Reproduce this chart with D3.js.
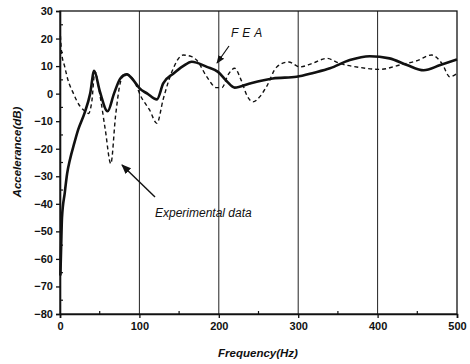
<!DOCTYPE html>
<html>
<head>
<meta charset="utf-8">
<script src="https://cdn.jsdelivr.net/npm/d3@7"></script>
<style>
  body { margin: 0; background: #fff; }
  text { font-family: "Liberation Sans", Arial, sans-serif; fill: #111; }
</style>
</head>
<body>
<svg id="chart" width="470" height="364"></svg>
<script>
// FEA (solid) curve
const feaFreq = [0.5, 1.5, 2.5, 6, 9, 12.5, 18, 23, 31, 38, 43, 50, 60, 68, 76, 84, 94, 100, 110, 122, 130, 143, 155, 166, 185, 199, 210, 220, 239, 268, 298, 320, 340, 365, 390, 415, 437, 458, 479, 500];
const feaDb = [-66, -55, -45, -36, -29, -24, -18, -13, -7, 0, 8.3, 1, -6.4, 0, 5.5, 7, 4.3, 2, 0, -2.1, 3.7, 7.3, 10, 11.6, 9.7, 7.9, 4.5, 2.2, 3.7, 5.5, 6.1, 7.6, 9.2, 12.2, 13.6, 12.8, 10.4, 8.5, 10.4, 12.4];

// experimental (dashed) curve
const expFreq = [0.5, 1, 2, 6, 10, 17, 25, 30, 36, 40, 44, 50, 57, 64, 70, 76, 82, 90, 96, 101, 113, 122, 130, 141, 155, 165, 172, 185, 197, 204, 212, 220, 228, 236, 243, 252, 260, 273, 288, 302, 318, 336, 352, 378, 403, 428, 450, 468, 481, 491, 500];
const expDb = [21, 19, 15, 9.7, 5, 0, -4.5, -6, -7.2, -3, 8, 0, -13, -25.4, -8, 4, 7.3, 6, 3, -0.5, -6, -10.8, -2, 8, 14, 13.5, 12.2, 6.1, 2.2, 2.2, 7, 9.2, 5, -1, -3, -1, 2.5, 9.7, 11.5, 9.7, 11, 12.8, 11, 9.5, 8.8, 10.4, 12, 14, 11, 6.1, 7.3];

const xTicks = [0, 100, 200, 300, 400, 500];
const yTicks = [30, 20, 10, 0, -10, -20, -30, -40, -50, -60, -70, -80];

const svg = d3.select('#chart');
const m = { left: 60, right: 457, top: 11, bottom: 314 };

const x = d3.scaleLinear().domain([0, 500]).range([m.left, m.right]);
const y = d3.scaleLinear().domain([-80, 30]).range([m.bottom, m.top]);

// arrowhead
svg.append('defs').append('marker')
  .attr('id', 'arr')
  .attr('viewBox', '0 0 10 10')
  .attr('refX', 9).attr('refY', 5)
  .attr('markerWidth', 7).attr('markerHeight', 7)
  .attr('orient', 'auto')
  .append('path').attr('d', 'M0,1L10,5L0,9Z').attr('fill', '#111');

// vertical grid lines
svg.append('g').selectAll('line').data([100, 200, 300, 400]).enter()
  .append('line')
  .attr('x1', (d) => x(d)).attr('x2', (d) => x(d))
  .attr('y1', m.top).attr('y2', m.bottom)
  .attr('stroke', '#222').attr('stroke-width', 1);

// frame
svg.append('rect')
  .attr('x', m.left).attr('y', m.top)
  .attr('width', m.right - m.left).attr('height', m.bottom - m.top)
  .attr('fill', 'none').attr('stroke', '#111').attr('stroke-width', 1.3);

// axes
const xAxis = svg.append('g').attr('transform', `translate(0,${m.bottom})`)
  .call(d3.axisBottom(x).tickValues(xTicks).tickSize(4).tickPadding(4).tickFormat(d3.format('d')));
const yAxis = svg.append('g').attr('transform', `translate(${m.left},0)`)
  .call(d3.axisLeft(y).tickValues(yTicks).tickSize(4).tickPadding(3).tickFormat(d3.format('d')));
[xAxis, yAxis].forEach((a) => {
  a.select('.domain').attr('stroke', '#111').attr('stroke-width', 1.6);
  a.selectAll('.tick line').attr('stroke', '#111').attr('stroke-width', 1.3);
  a.selectAll('text').attr('font-size', 11).attr('font-weight', 'bold')
    .attr('font-family', '"Liberation Sans", Arial, sans-serif').attr('fill', '#111');
});

// minor ticks, pointing inward
svg.append('g').selectAll('line').data(d3.range(-75, 30, 10)).enter()
  .append('line')
  .attr('x1', m.left).attr('x2', m.left + 3)
  .attr('y1', (d) => y(d)).attr('y2', (d) => y(d))
  .attr('stroke', '#111').attr('stroke-width', 1.2);
svg.append('g').selectAll('line').data([50, 150, 250, 350, 450]).enter()
  .append('line')
  .attr('x1', (d) => x(d)).attr('x2', (d) => x(d))
  .attr('y1', m.bottom).attr('y2', m.bottom - 3)
  .attr('stroke', '#111').attr('stroke-width', 1.2);

// curves
const line = d3.line().curve(d3.curveMonotoneX);
svg.append('path')
  .attr('d', line(expFreq.map((f, i) => [x(f), y(expDb[i])])))
  .attr('fill', 'none').attr('stroke', '#111')
  .attr('stroke-width', 1.4).attr('stroke-dasharray', '4,3');
svg.append('path')
  .attr('d', line(feaFreq.map((f, i) => [x(f), y(feaDb[i])])))
  .attr('fill', 'none').attr('stroke', '#111')
  .attr('stroke-width', 2.6);

// annotations
svg.append('text').attr('x', 231).attr('y', 37)
  .attr('font-size', 12).attr('font-style', 'italic')
  .attr('letter-spacing', 4).text('FEA');
svg.append('line')
  .attr('x1', 229).attr('y1', 46).attr('x2', 217).attr('y2', 63)
  .attr('stroke', '#111').attr('stroke-width', 1.2).attr('marker-end', 'url(#arr)');

svg.append('text').attr('x', 155).attr('y', 217)
  .attr('font-size', 12).attr('font-style', 'italic')
  .text('Experimental data');
svg.append('line')
  .attr('x1', 155).attr('y1', 197).attr('x2', 122).attr('y2', 165)
  .attr('stroke', '#111').attr('stroke-width', 1.4).attr('marker-end', 'url(#arr)');

// axis titles
svg.append('text').attr('x', 258).attr('y', 357)
  .attr('text-anchor', 'middle').attr('font-size', 11.5)
  .attr('font-weight', 'bold').attr('font-style', 'italic')
  .text('Frequency(Hz)');
svg.append('text')
  .attr('transform', 'translate(21,152) rotate(-90)')
  .attr('text-anchor', 'middle').attr('font-size', 11.5)
  .attr('font-weight', 'bold').attr('font-style', 'italic')
  .text('Accelerance(dB)');
</script>
</body>
</html>
